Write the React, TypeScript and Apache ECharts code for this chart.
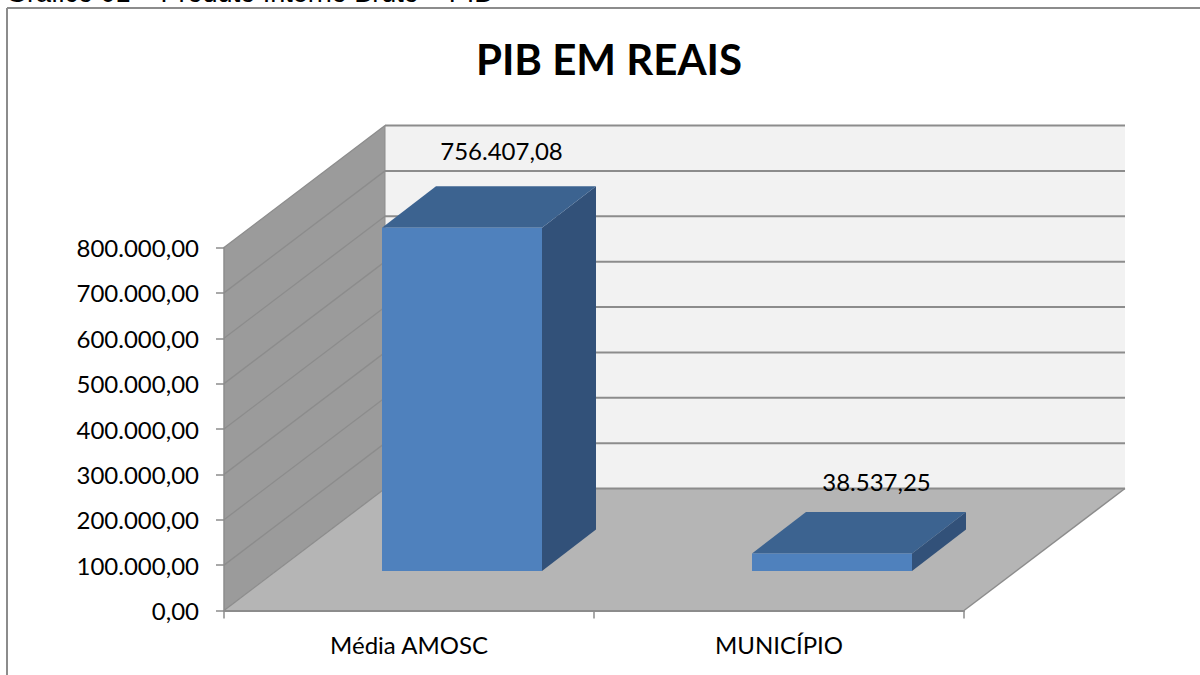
import React, { useEffect, useRef } from "react";
import * as echarts from "echarts";

const categories = ["Média AMOSC", "MUNICÍPIO"];
const values = [756407.08, 38537.25];
const gridTicks = [0, 100000, 200000, 300000, 400000, 500000, 600000, 700000, 800000];
const captionText = "Gráfico 01 – Produto Interno Bruto – PIB";
const titleText = "PIB EM REAIS";

const DEPTH_X = 161;
const DEPTH_Y = -122;
const BAR_START_X = 53;
const BAR_START_Y = -39.5;
const BAR_DEPTH_X = 54;
const BAR_DEPTH_Y = -41.5;
const BAR_WIDTH_RATIO = 160 / 370;
const LABEL_SHIFT = [
  [39.5, -77],
  [44.5, -72],
];

const LINE = "#8c8c8c";
const FONT = "Lato, 'Open Sans', sans-serif";

const fmt = (v: number) => {
  const [i, d] = v.toFixed(2).split(".");
  return i.replace(/\B(?=(\d{3})+(?!\d))/g, ".") + "," + d;
};

function renderWalls(params: any) {
  const { x, y, width, height } = params.coordSys;
  const b = y + height;
  const r = x + width;
  return {
    type: "group",
    silent: true,
    children: [
      {
        type: "polygon",
        shape: { points: [[x + DEPTH_X, y + DEPTH_Y], [r + DEPTH_X, y + DEPTH_Y], [r + DEPTH_X, b + DEPTH_Y], [x + DEPTH_X, b + DEPTH_Y]] },
        style: { fill: "#f2f2f2" },
      },
      {
        type: "polygon",
        shape: { points: [[x, y], [x + DEPTH_X, y + DEPTH_Y], [x + DEPTH_X, b + DEPTH_Y], [x, b]] },
        style: { fill: "#9b9b9b" },
      },
      {
        type: "polygon",
        shape: { points: [[x, b], [x + DEPTH_X, b + DEPTH_Y], [r + DEPTH_X, b + DEPTH_Y], [r, b]] },
        style: { fill: "#b5b5b5" },
      },
      {
        type: "line",
        shape: { x1: x + DEPTH_X, y1: y + DEPTH_Y, x2: x + DEPTH_X, y2: b + DEPTH_Y },
        style: { stroke: LINE, lineWidth: 1 },
      },
      {
        type: "line",
        shape: { x1: r, y1: b, x2: r + DEPTH_X, y2: b + DEPTH_Y },
        style: { stroke: LINE, lineWidth: 1.5 },
      },
    ],
  };
}

function renderGridLine(params: any, api: any) {
  const p = api.coord([0, api.value(0)]);
  const { x, width } = params.coordSys;
  const yy = p[1];
  return {
    type: "group",
    silent: true,
    children: [
      {
        type: "line",
        shape: { x1: x, y1: yy, x2: x + DEPTH_X, y2: yy + DEPTH_Y },
        style: { stroke: LINE, lineWidth: 1.3 },
      },
      {
        type: "line",
        shape: { x1: x + DEPTH_X, y1: yy + DEPTH_Y, x2: x + width + DEPTH_X, y2: yy + DEPTH_Y },
        style: { stroke: LINE, lineWidth: 2 },
      },
    ],
  };
}

function renderBar(params: any, api: any) {
  const idx = api.value(0);
  const val = api.value(1);
  const top = api.coord([idx, val]);
  const base = api.coord([idx, 0]);
  const w = api.size([1, 0])[0] * BAR_WIDTH_RATIO;
  const l = top[0] - w / 2 + BAR_START_X;
  const r = l + w;
  const t = top[1] + BAR_START_Y;
  const b = base[1] + BAR_START_Y;
  const dx = BAR_DEPTH_X;
  const dy = BAR_DEPTH_Y;
  const shift = LABEL_SHIFT[params.dataIndex];
  return {
    type: "group",
    children: [
      {
        type: "polygon",
        shape: { points: [[r, t], [r + dx, t + dy], [r + dx, b + dy], [r, b]] },
        style: { fill: "#325179" },
      },
      {
        type: "polygon",
        shape: { points: [[l, t], [l + dx, t + dy], [r + dx, t + dy], [r, t]] },
        style: { fill: "#3c6390" },
      },
      {
        type: "rect",
        shape: { x: l, y: t, width: w, height: b - t },
        style: { fill: "#4f81bd" },
      },
      {
        type: "text",
        x: (l + r) / 2 + shift[0],
        y: t + shift[1],
        style: {
          text: fmt(val),
          fill: "#000",
          font: `24px ${FONT}`,
          align: "center",
          verticalAlign: "middle",
        },
      },
    ],
  };
}

export default function App() {
  const ref = useRef<HTMLDivElement>(null);
  useEffect(() => {
    const chart = echarts.init(ref.current!, undefined, { renderer: "svg" });
    chart.setOption({
      animation: false,
      backgroundColor: "#fff",
      title: {
        text: titleText,
        left: 604,
        top: 33,
        textAlign: "center",
        textStyle: { fontFamily: FONT, fontSize: 42, fontWeight: "bold", color: "#000" },
      },
      grid: { left: 224, top: 247.5, width: 740, height: 363, containLabel: false },
      xAxis: {
        type: "category",
        data: categories,
        z: 5,
        axisLine: { lineStyle: { color: LINE, width: 2 } },
        axisTick: { show: true, alignWithLabel: false, length: 8, lineStyle: { color: LINE, width: 1.5 } },
        axisLabel: { color: "#000", fontFamily: FONT, fontSize: 24, margin: 22 },
      },
      yAxis: {
        type: "value",
        min: 0,
        max: 800000,
        interval: 100000,
        z: 5,
        splitLine: { show: false },
        axisLine: { show: true, lineStyle: { color: LINE, width: 1.5 } },
        axisTick: { show: true, length: 8, lineStyle: { color: LINE, width: 1.5 } },
        axisLabel: { color: "#000", fontFamily: FONT, fontSize: 24, margin: 25, formatter: (v: number) => fmt(v) },
      },
      graphic: [
        {
          type: "line",
          silent: true,
          shape: { x1: 7, y1: 8, x2: 1200, y2: 8 },
          style: { stroke: LINE, lineWidth: 2 },
        },
        {
          type: "line",
          silent: true,
          shape: { x1: 7, y1: 8, x2: 7, y2: 675 },
          style: { stroke: LINE, lineWidth: 2 },
        },
        {
          type: "text",
          silent: true,
          x: 6,
          y: -21,
          style: { text: captionText, fill: "#000", font: "27px 'Liberation Sans', Arial, sans-serif" },
        },
      ],
      series: [
        { type: "custom", name: "paredes", coordinateSystem: "cartesian2d", clip: false, z: 1, silent: true, data: [[0, 0]], renderItem: renderWalls },
        { type: "custom", name: "grade", coordinateSystem: "cartesian2d", clip: false, z: 2, silent: true, data: gridTicks.map((v) => [v]), encode: { y: 0 }, renderItem: renderGridLine },
        {
          type: "custom",
          name: "PIB",
          coordinateSystem: "cartesian2d",
          clip: false,
          z: 3,
          data: values.map((v, i) => [i, v]),
          encode: { x: 0, y: 1 },
          renderItem: renderBar,
        },
      ],
    });
    return () => chart.dispose();
  }, []);
  return <div ref={ref} style={{ position: "fixed", left: 0, top: 0, width: 1200, height: 675 }} />;
}
